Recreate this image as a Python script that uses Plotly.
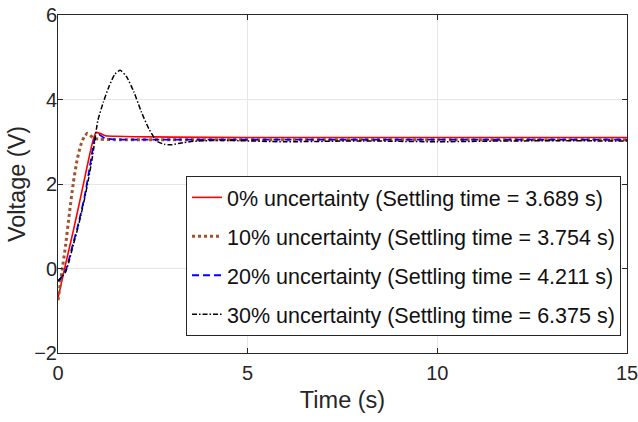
import plotly.graph_objects as go

# Data
t_red = [0, 0.2, 0.4, 0.6, 0.8, 0.9, 1.0, 1.1, 1.25, 1.5, 2, 3, 5, 8, 11, 15]
v_red = [-0.7, 0.1, 0.88, 1.7, 2.55, 2.95, 3.22, 3.2, 3.14, 3.13, 3.12, 3.11, 3.1, 3.1, 3.1, 3.1]

t_brown = [0, 0.1, 0.2, 0.3, 0.4, 0.5, 0.6, 0.7, 0.78, 0.85, 0.95, 1.1, 1.5, 3, 6, 10, 15]
v_brown = [-0.75, -0.1, 0.55, 1.3, 2.0, 2.55, 2.92, 3.13, 3.2, 3.15, 3.08, 3.06, 3.05, 3.05, 3.05, 3.05, 3.05]

t_blue = [0, 0.1, 0.2, 0.3, 0.4, 0.5, 0.6, 0.7, 0.8, 0.9, 0.95, 1.0, 1.08, 1.2, 1.4, 2, 5, 10, 15]
v_blue = [-0.3, -0.2, -0.05, 0.25, 0.6, 0.92, 1.3, 1.7, 2.2, 2.75, 3.0, 3.12, 3.17, 3.1, 3.06, 3.05, 3.05, 3.05, 3.05]

t_black = [0, 0.1, 0.2, 0.3, 0.4, 0.5, 0.6, 0.7, 0.8, 0.9, 0.95, 1.05, 1.2, 1.35, 1.5, 1.64, 1.8, 2.0, 2.2, 2.4,
           2.6, 2.8, 3.0, 3.3, 3.7, 4.5, 6, 8, 10, 12, 15]
v_black = [-0.3, -0.2, -0.08, 0.2, 0.55, 0.88, 1.25, 1.65, 2.1, 2.6, 2.9, 3.5, 3.95, 4.32, 4.6, 4.69, 4.55, 4.18,
           3.7, 3.3, 3.02, 2.94, 2.93, 2.98, 3.02, 3.03, 3.0, 3.02, 3.0, 3.02, 3.02]

names = [
    "0% uncertainty (Settling time = 3.689 s)",
    "10% uncertainty (Settling time = 3.754 s)",
    "20% uncertainty (Settling time = 4.211 s)",
    "30% uncertainty (Settling time = 6.375 s)",
]

x_ticks = [0, 5, 10, 15]
y_ticks = [-2, 0, 2, 4, 6]

fig = go.Figure()
series = [
    (t_red, v_red, dict(color="#FF0000", width=1.6, dash="solid")),
    (t_brown, v_brown, dict(color="#A0522D", width=3, dash="3px,3px")),
    (t_blue, v_blue, dict(color="#0000FF", width=1.8, dash="7px,4px")),
    (t_black, v_black, dict(color="#000000", width=1.5, dash="5px,2px,1.5px,2px")),
]
for i, (tx, vy, ln) in enumerate(series):
    fig.add_trace(go.Scatter(x=tx, y=vy, mode="lines", name=names[i],
                             line=dict(shape="spline", smoothing=0.6, **ln),
                             legendgroup=f"g{i}"))

axis_common = dict(
    showgrid=True, gridcolor="#E6E6E6", gridwidth=1,
    showline=True, linecolor="#262626", linewidth=1, mirror="ticks",
    ticks="inside", ticklen=5, tickcolor="#262626",
    zeroline=False, tickfont=dict(size=20, color="#262626"),
    automargin=False, ticklabeloverflow="allow",
)
fig.update_xaxes(range=[0, 15], tickvals=x_ticks, ticklabelstandoff=2,
                 title=dict(text="Time (s)", font=dict(size=23.5, color="#262626"), standoff=8),
                 **axis_common)
fig.update_yaxes(range=[-2, 6], tickvals=y_ticks, ticklabelstandoff=-4,
                 title=dict(text="Voltage (V)", font=dict(size=23.5, color="#262626"), standoff=1),
                 **axis_common)

fig.update_layout(
    width=638, height=422,
    margin=dict(l=58, r=11, t=15, b=69),
    plot_bgcolor="white", paper_bgcolor="white",
    font=dict(family="Liberation Sans, Arial, sans-serif", color="#262626"),
    legend=dict(x=0.225, y=0.524, xanchor="left", yanchor="top",
                bgcolor="white", bordercolor="#262626", borderwidth=1,
                font=dict(size=21.5, color="#111111"), tracegroupgap=8, itemwidth=30),
    showlegend=True,
)

fig.write_html("out.html")
